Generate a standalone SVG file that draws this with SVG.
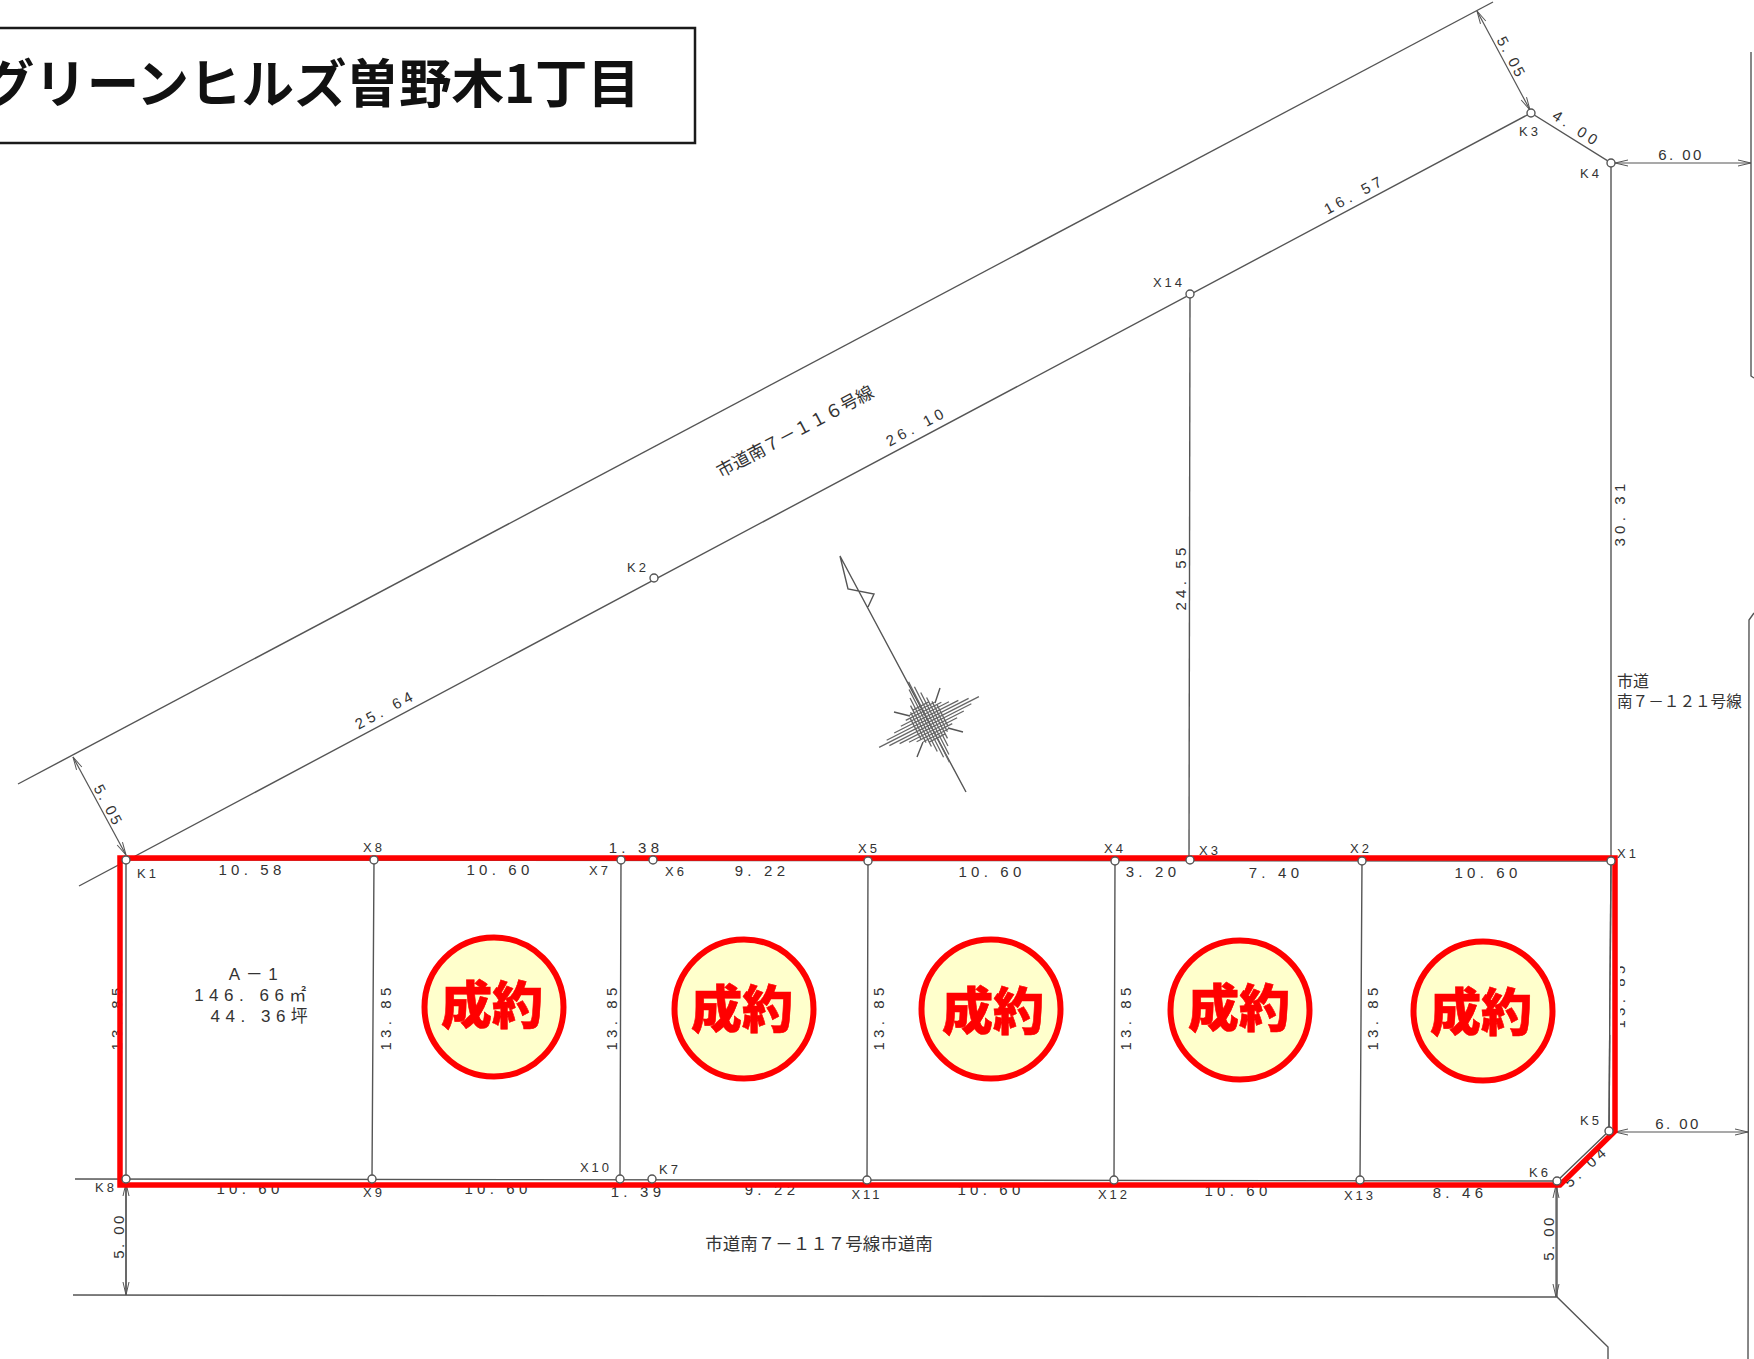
<svg xmlns="http://www.w3.org/2000/svg" width="1754" height="1359" viewBox="0 0 1754 1359">
<style>
text{font-family:"Liberation Sans","Noto Sans CJK JP",sans-serif;fill:#333;text-anchor:middle}
.d{font-size:15px;letter-spacing:4.2px}
.w{letter-spacing:2.4px}
.p{font-size:13px;letter-spacing:3px}
.b{font-size:17px;letter-spacing:5.5px}
.j{font-family:"Noto Sans CJK JP",sans-serif;font-size:17.5px}
.l{fill:none;stroke:#555;stroke-width:1.4}
.a{fill:none;stroke:#555;stroke-width:1.2;marker-end:url(#o);marker-start:url(#o)}
.n{fill:#fff;stroke:#555;stroke-width:1.4}
.s{stroke:#666;stroke-width:1.3;fill:none}
.c{fill:#ffffcc;stroke:#ff0000;stroke-width:6}
.t{font-family:"Noto Sans CJK JP",sans-serif;font-weight:900;font-size:51px;fill:#ff0000;stroke:#ff0000;stroke-width:.6}
</style>
<defs>
<marker id="o" markerWidth="16" markerHeight="10" refX="14" refY="5" orient="auto-start-reverse" markerUnits="userSpaceOnUse"><path d="M1,2 L14,5 L1,8" fill="none" stroke="#555" stroke-width="1"/></marker>
</defs>
<rect width="1754" height="1359" fill="#fff"/>
<g id="connectors">
<path class="l" d="M18,784 L1493,2"/>
<path class="l" d="M79,886 L1531,113 L1611,163 L1611,861"/>
<path class="l" d="M1190,294 L1189,860"/>
<path class="l" d="M126,860 L1611,861 L1609,1131 L1557,1181 L75,1179"/>
<path class="l" d="M126,859 L126,1295"/>
<path class="l" d="M374,860 L372,1179 M621,860 L620,1179 M868,861 L867,1180 M1115,861 L1114,1180 M1362,861 L1360,1180"/>
<path class="l" d="M73,1295 L1557,1297 L1608,1347 L1608,1359"/>
<path class="l" d="M1557,1181 L1557,1297"/>
<path class="l" d="M1751,52 L1751,376 L1754,378 M1754,613 L1749,620 L1748,1359"/>
<path class="a" d="M73,757 L126,855"/>
<path class="a" d="M1477,11 L1530,110"/>
<path class="a" d="M1615,163 L1751,163"/>
<path class="a" d="M1615,1132 L1748,1132"/>
<path class="a" d="M126,1183 L126,1295"/>
<path class="a" d="M1556,1185 L1556,1297"/>
</g>
<g id="compass">
<path class="l" d="M868,607 L874,594 L848,589 L840,556 L966,792"/>
<path class="l" d="M935,703 L940,688 M910,716 L894,712 M948,728 L963,732 M923,742 L917,757"/>
<g transform="translate(929,722) rotate(-27)">
<path class="s" d="M-56,0H56 M-46,3H46 M-46,-3H46 M-36,6H36 M-36,-6H36 M-27,9H27 M-27,-9H27 M-20,12H20 M-20,-12H20 M-14,15H14 M-14,-15H14 M-9,18H9 M-9,-18H9"/>
<path class="s" d="M0,-45V45 M3,-38V38 M-3,-38V38 M6,-30V30 M-6,-30V30 M9,-23V23 M-9,-23V23 M12,-17V17 M-12,-17V17 M15,-12V12 M-15,-12V12"/>
</g>
</g>
<g id="dimension-labels">
<text class="d" transform="translate(388,714) rotate(-28)">25. 64</text>
<text class="d" transform="translate(919,431) rotate(-28)">26. 10</text>
<text class="d" transform="translate(1357,199) rotate(-28)">16. 57</text>
<text class="d w" transform="translate(104,808) rotate(62)">5. 05</text>
<text class="d w" transform="translate(1507,60) rotate(62)">5. 05</text>
<text class="d" transform="translate(1574,133) rotate(33)">4. 00</text>
<text class="d w" x="1681" y="160">6. 00</text>
<text class="d w" x="1678" y="1129">6. 00</text>
<text class="d" transform="translate(1625,513) rotate(-90)">30. 31</text>
<text class="d" transform="translate(1186,577) rotate(-90)">24. 55</text>
<text class="d" transform="translate(391,1017) rotate(-90)">13. 85</text>
<text class="d" transform="translate(617,1017) rotate(-90)">13. 85</text>
<text class="d" transform="translate(884,1017) rotate(-90)">13. 85</text>
<text class="d" transform="translate(1131,1017) rotate(-90)">13. 85</text>
<text class="d" transform="translate(1378,1017) rotate(-90)">13. 85</text>
<text class="d" transform="translate(122,1017) rotate(-90)">13. 85</text>
<text class="d" transform="translate(1625,995) rotate(-90)">13. 85</text>
<rect x="1610" y="955" width="10" height="80" fill="#fff"/>
<path class="l" d="M1611,861 L1609,1131"/>
<text class="d w" transform="translate(124,1236) rotate(-90)">5. 00</text>
<text class="d w" transform="translate(1554,1238) rotate(-90)">5. 00</text>
<text class="d" transform="translate(1590,1170) rotate(-42)">5. 04</text>
<text class="d" x="636" y="853">1. 38</text>
<text class="d" x="252" y="875">10. 58</text>
<text class="d" x="500" y="875">10. 60</text>
<text class="d" x="762" y="876">9. 22</text>
<text class="d" x="992" y="877">10. 60</text>
<text class="d" x="1153" y="877">3. 20</text>
<text class="d" x="1276" y="878">7. 40</text>
<text class="d" x="1488" y="878">10. 60</text>
<text class="d" x="250" y="1194">10. 60</text>
<text class="d" x="498" y="1194">10. 60</text>
<text class="d" x="638" y="1197">1. 39</text>
<text class="d" x="772" y="1195">9. 22</text>
<text class="d" x="991" y="1195">10. 60</text>
<text class="d" x="1238" y="1196">10. 60</text>
<text class="d" x="1460" y="1198">8. 46</text>
<text class="j" transform="translate(798,437) rotate(-28)">市道南７－１１６号線</text>
<text class="j" x="819" y="1250">市道南７－１１７号線市道南</text>
<text class="j" x="1617" y="687" style="text-anchor:start;font-size:16px">市道</text>
<text class="j" x="1617" y="707" style="text-anchor:start;font-size:15.6px">南７－１２１号線</text>
</g>
<g id="lot-a1">
<text class="b" x="256" y="980">A－1</text>
<text class="b" x="253" y="1001">146. 66㎡</text>
<text class="b" x="262" y="1022">44. 36坪</text>
</g>
<g id="boundary-outline"><path d="M120,858 H1615 V1131 L1560,1185 H120 Z" fill="none" stroke="#ff0000" stroke-width="5.5"/></g>
<g id="K1"><circle class="n" cx="126" cy="860" r="4"/><text class="p" x="148" y="878">K1</text></g>
<g id="K2"><circle class="n" cx="654" cy="578" r="4"/><text class="p" x="638" y="572">K2</text></g>
<g id="K3"><circle class="n" cx="1531" cy="113" r="4"/><text class="p" x="1530" y="136">K3</text></g>
<g id="K4"><circle class="n" cx="1611" cy="163" r="4"/><text class="p" x="1591" y="178">K4</text></g>
<g id="K5"><circle class="n" cx="1609" cy="1131" r="4"/><text class="p" x="1591" y="1125">K5</text></g>
<g id="K6"><circle class="n" cx="1557" cy="1181" r="4"/><text class="p" x="1540" y="1177">K6</text></g>
<g id="K7"><circle class="n" cx="652" cy="1179" r="4"/><text class="p" x="670" y="1174">K7</text></g>
<g id="K8"><circle class="n" cx="126" cy="1179" r="4"/><text class="p" x="106" y="1192">K8</text></g>
<g id="X1"><circle class="n" cx="1611" cy="861" r="4"/><text class="p" x="1628" y="858">X1</text></g>
<g id="X2"><circle class="n" cx="1362" cy="861" r="4"/><text class="p" x="1361" y="853">X2</text></g>
<g id="X3"><circle class="n" cx="1190" cy="860" r="4"/><text class="p" x="1210" y="855">X3</text></g>
<g id="X4"><circle class="n" cx="1115" cy="861" r="4"/><text class="p" x="1115" y="853">X4</text></g>
<g id="X5"><circle class="n" cx="868" cy="861" r="4"/><text class="p" x="869" y="853">X5</text></g>
<g id="X6"><circle class="n" cx="653" cy="860" r="4"/><text class="p" x="676" y="876">X6</text></g>
<g id="X7"><circle class="n" cx="621" cy="860" r="4"/><text class="p" x="600" y="875">X7</text></g>
<g id="X8"><circle class="n" cx="374" cy="860" r="4"/><text class="p" x="374" y="852">X8</text></g>
<g id="X9"><circle class="n" cx="372" cy="1179" r="4"/><text class="p" x="374" y="1197">X9</text></g>
<g id="X10"><circle class="n" cx="620" cy="1179" r="4"/><text class="p" x="596" y="1172">X10</text></g>
<g id="X11"><circle class="n" cx="867" cy="1180" r="4"/><text class="p" x="867" y="1199">X11</text></g>
<g id="X12"><circle class="n" cx="1114" cy="1180" r="4"/><text class="p" x="1114" y="1199">X12</text></g>
<g id="X13"><circle class="n" cx="1360" cy="1180" r="4"/><text class="p" x="1360" y="1200">X13</text></g>
<g id="X14"><circle class="n" cx="1190" cy="294" r="4"/><text class="p" x="1169" y="287">X14</text></g>
<g id="sold-1"><circle class="c" cx="494" cy="1007" r="69.5"/><text class="t" x="492" y="1024">成約</text></g>
<g id="sold-2"><circle class="c" cx="744" cy="1009" r="69.5"/><text class="t" x="742" y="1028">成約</text></g>
<g id="sold-3"><circle class="c" cx="991" cy="1009" r="69.5"/><text class="t" x="993" y="1030">成約</text></g>
<g id="sold-4"><circle class="c" cx="1240" cy="1010" r="69.5"/><text class="t" x="1239" y="1027">成約</text></g>
<g id="sold-5"><circle class="c" cx="1483" cy="1011" r="69.5"/><text class="t" x="1481" y="1031">成約</text></g>
<g id="title">
<rect x="-5" y="28" width="700" height="115" fill="#fff" stroke="#1a1a1a" stroke-width="2.5"/>
<text x="640" y="103" style="font-family:'Noto Sans CJK JP',sans-serif;font-weight:700;font-size:52.5px;fill:#111;text-anchor:end">グリーンヒルズ曽野木1丁目</text>
</g>
</svg>
